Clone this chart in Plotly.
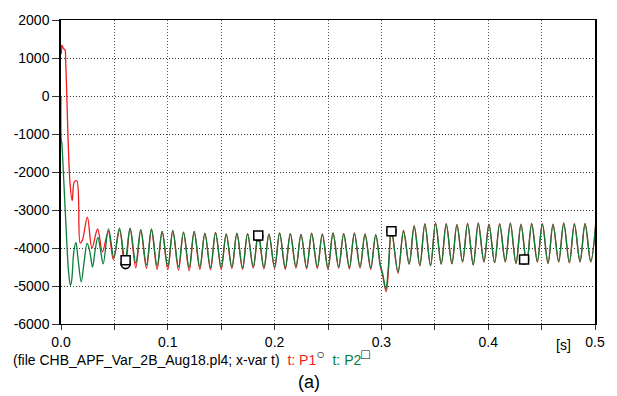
import plotly.graph_objects as go

# ---------------- data ----------------
# P1 (red) : time [s] and value
t_p1 = [0.0, 0.0004, 0.0008, 0.0015, 0.0025, 0.0037, 0.0044, 0.0084, 0.0105, 0.0125,
        0.0148, 0.0180, 0.0200, 0.0247, 0.0290, 0.0343, 0.0388, 0.0443, 0.0490, 0.0549,
        0.0600, 0.0647, 0.0700, 0.0747, 0.0800, 0.0847, 0.0900, 0.0947, 0.1000, 0.1047,
        0.1100, 0.1147, 0.1200, 0.1247, 0.1300, 0.1347, 0.1400, 0.1447, 0.1500, 0.1547,
        0.1600, 0.1647, 0.1700, 0.1747, 0.1800, 0.1847, 0.1900, 0.1947, 0.2000, 0.2047,
        0.2100, 0.2147, 0.2200, 0.2247, 0.2300, 0.2347, 0.2400, 0.2447, 0.2500, 0.2547,
        0.2600, 0.2647, 0.2700, 0.2747, 0.2800, 0.2847, 0.2900, 0.2947, 0.2990, 0.3010,
        0.3045, 0.3067, 0.3094, 0.3156, 0.3207, 0.3260, 0.3307, 0.3360, 0.3407, 0.3460,
        0.3507, 0.3560, 0.3607, 0.3660, 0.3707, 0.3760, 0.3807, 0.3860, 0.3907, 0.3960,
        0.4007, 0.4060, 0.4107, 0.4160, 0.4207, 0.4260, 0.4307, 0.4360, 0.4407, 0.4460,
        0.4507, 0.4560, 0.4607, 0.4660, 0.4707, 0.4760, 0.4807, 0.4860, 0.4907, 0.4960,
        0.5007]
v_p1 = [1100, 1150, 1340, 1300, 1240, 1220, 900, -2280, -2750, -2260,
        -2230, -3870, -3800, -3190, -4000, -3500, -4100, -3560, -4300, -3530,
        -4560, -3500, -4520, -3530, -4540, -3520, -4560, -3570, -4570, -3550,
        -4580, -3590, -4600, -3570, -4560, -3610, -4570, -3590, -4560, -3630,
        -4540, -3620, -4560, -3620, -4530, -3640, -4550, -3630, -4540, -3600,
        -4560, -3620, -4530, -3640, -4550, -3610, -4540, -3630, -4560, -3600,
        -4530, -3620, -4550, -3600, -4530, -3630, -4560, -3660, -4480, -4700,
        -5150, -4550, -3520, -4660, -3540, -4430, -3410, -4470, -3360, -4470,
        -3340, -4430, -3360, -4420, -3380, -4370, -3350, -4450, -3340, -4370,
        -3370, -4390, -3360, -4370, -3340, -4410, -3370, -4410, -3350, -4370,
        -3360, -4410, -3370, -4370, -3340, -4390, -3360, -4370, -3350, -4370,
        -3360]

# P2 (green) : time [s] and value
t_p2 = [0.0, 0.0002, 0.0008, 0.0022, 0.0050, 0.0070, 0.0088, 0.0100, 0.0120, 0.0140,
        0.0160, 0.0190, 0.0215, 0.0245, 0.0270, 0.0295, 0.0320, 0.0345, 0.0370, 0.0395,
        0.0445, 0.0495, 0.0547, 0.0600, 0.0647, 0.0700, 0.0747, 0.0800, 0.0847, 0.0900,
        0.0947, 0.1000, 0.1047, 0.1100, 0.1147, 0.1200, 0.1247, 0.1300, 0.1347, 0.1400,
        0.1447, 0.1500, 0.1547, 0.1600, 0.1647, 0.1700, 0.1747, 0.1800, 0.1847, 0.1900,
        0.1947, 0.2000, 0.2047, 0.2100, 0.2147, 0.2200, 0.2247, 0.2300, 0.2347, 0.2400,
        0.2447, 0.2500, 0.2547, 0.2600, 0.2647, 0.2700, 0.2747, 0.2800, 0.2847, 0.2900,
        0.2947, 0.2990, 0.3010, 0.3042, 0.3065, 0.3094, 0.3156, 0.3207, 0.3260, 0.3307,
        0.3360, 0.3407, 0.3460, 0.3507, 0.3560, 0.3607, 0.3660, 0.3707, 0.3760, 0.3807,
        0.3860, 0.3907, 0.3960, 0.4007, 0.4060, 0.4107, 0.4160, 0.4207, 0.4260, 0.4307,
        0.4360, 0.4407, 0.4460, 0.4507, 0.4560, 0.4607, 0.4660, 0.4707, 0.4760, 0.4807,
        0.4860, 0.4907, 0.4960, 0.5007]
v_p2 = [0, -1150, -1250, -2000, -3600, -4600, -4980, -4850, -4100, -3850,
        -4300, -4890, -4400, -3880, -4100, -4500, -4050, -3720, -4050, -4420,
        -3500, -4250, -3480, -4320, -3480, -4400, -3520, -4450, -3500, -4470,
        -3560, -4480, -3540, -4500, -3580, -4520, -3560, -4500, -3620, -4520,
        -3600, -4510, -3640, -4500, -3610, -4520, -3630, -4490, -3620, -4510,
        -3640, -4500, -3610, -4520, -3630, -4490, -3650, -4510, -3620, -4500,
        -3640, -4520, -3610, -4500, -3630, -4510, -3620, -4490, -3640, -4520,
        -3650, -4450, -4650, -5080, -4500, -3530, -4630, -3560, -4420, -3430,
        -4450, -3380, -4460, -3360, -4420, -3380, -4410, -3400, -4350, -3370,
        -4440, -3360, -4350, -3390, -4380, -3380, -4350, -3360, -4400, -3390,
        -4400, -3370, -4350, -3380, -4400, -3390, -4350, -3360, -4380, -3380,
        -4350, -3370, -4350, -3380]

# curve markers (circle on P1, square on P2)
mk_t = [0.0605, 0.1847, 0.3094, 0.4336]
mk_p1 = [-4420, -3690, -3560, -4300]
mk_p2 = [-4320, -3670, -3560, -4300]

x_ticks = [0.0, 0.1, 0.2, 0.3, 0.4, 0.5]
x_labels = ["0.0", "0.1", "0.2", "0.3", "0.4", "0.5"]
x_minor = [0.05, 0.15, 0.25, 0.35, 0.45]
y_ticks = [2000, 1000, 0, -1000, -2000, -3000, -4000, -5000, -6000]
y_labels = ["2000", "1000", "0", "-1000", "-2000", "-3000", "-4000", "-5000", "-6000"]

RED = "#f01c1c"
GREEN = "#0b7d3a"
FONT = "Liberation Sans, Arial, sans-serif"

fig = go.Figure()
fig.add_trace(go.Scatter(x=t_p1, y=v_p1, mode="lines",
                         line=dict(color=RED, width=1.3, shape="spline", smoothing=1.0),
                         name="t: P1"))
fig.add_trace(go.Scatter(x=t_p2, y=v_p2, mode="lines",
                         line=dict(color=GREEN, width=1.3, shape="spline", smoothing=1.0),
                         name="t: P2"))
fig.add_trace(go.Scatter(x=mk_t, y=mk_p1, mode="markers",
                         marker=dict(symbol="circle", size=9, color="white",
                                     line=dict(color="black", width=1.5))))
fig.add_trace(go.Scatter(x=mk_t, y=mk_p2, mode="markers",
                         marker=dict(symbol="square", size=9, color="white",
                                     line=dict(color="black", width=1.5))))

fig.update_layout(
    width=617, height=396,
    margin=dict(l=61, r=19, t=17, b=72),
    paper_bgcolor="white", plot_bgcolor="white",
    showlegend=False,
    font=dict(family=FONT, size=14, color="black"),
    xaxis=dict(range=[0, 0.5], tickvals=x_ticks, ticktext=x_labels,
               showgrid=True, gridcolor="#555555", griddash="1px,2px", gridwidth=1,
               minor=dict(tickvals=x_minor, ticks="outside", ticklen=5,
                          tickcolor="#333333", showgrid=True, gridcolor="#555555",
                          griddash="1px,2px", gridwidth=1),
               showline=True, linecolor="black", linewidth=1.3, mirror=True,
               ticks="outside", ticklen=5, tickcolor="#333333",
               zeroline=False, tickfont=dict(size=14)),
    yaxis=dict(range=[-6000, 2000], tickvals=y_ticks, ticktext=y_labels,
               showgrid=True, gridcolor="#333333", griddash="1px,2px", gridwidth=1,
               showline=True, linecolor="black", linewidth=1.5, mirror=True,
               ticks="outside", ticklen=7, tickcolor="#333333",
               zeroline=False, tickfont=dict(size=14)),
)

fig.add_annotation(xref="paper", yref="paper", x=(566 - 61) / 537, y=-(345 - 324) / 307,
                   text="[s]", showarrow=False, xanchor="center", yanchor="middle",
                   font=dict(size=14))
fig.add_annotation(xref="paper", yref="paper", x=(11 - 61) / 537, y=-(357 - 324) / 307,
                   text=("(file CHB_APF_Var_2B_Aug18.pl4; x-var t)  "
                         f"<span style='color:{RED}'>t: P1</span>"
                         "<sup><span style='font-size:14px'>○</span></sup>  "
                         f"<span style='color:{GREEN}'>t: P2</span>"
                         "<sup><span style='font-size:14px'>□</span></sup>"),
                   showarrow=False, xanchor="left", yanchor="middle",
                   font=dict(size=14))
fig.add_annotation(xref="paper", yref="paper", x=(310 - 61) / 537, y=-(383 - 324) / 307,
                   text="(a)", showarrow=False, xanchor="center", yanchor="middle",
                   font=dict(size=18))

fig.write_html("out.html")
